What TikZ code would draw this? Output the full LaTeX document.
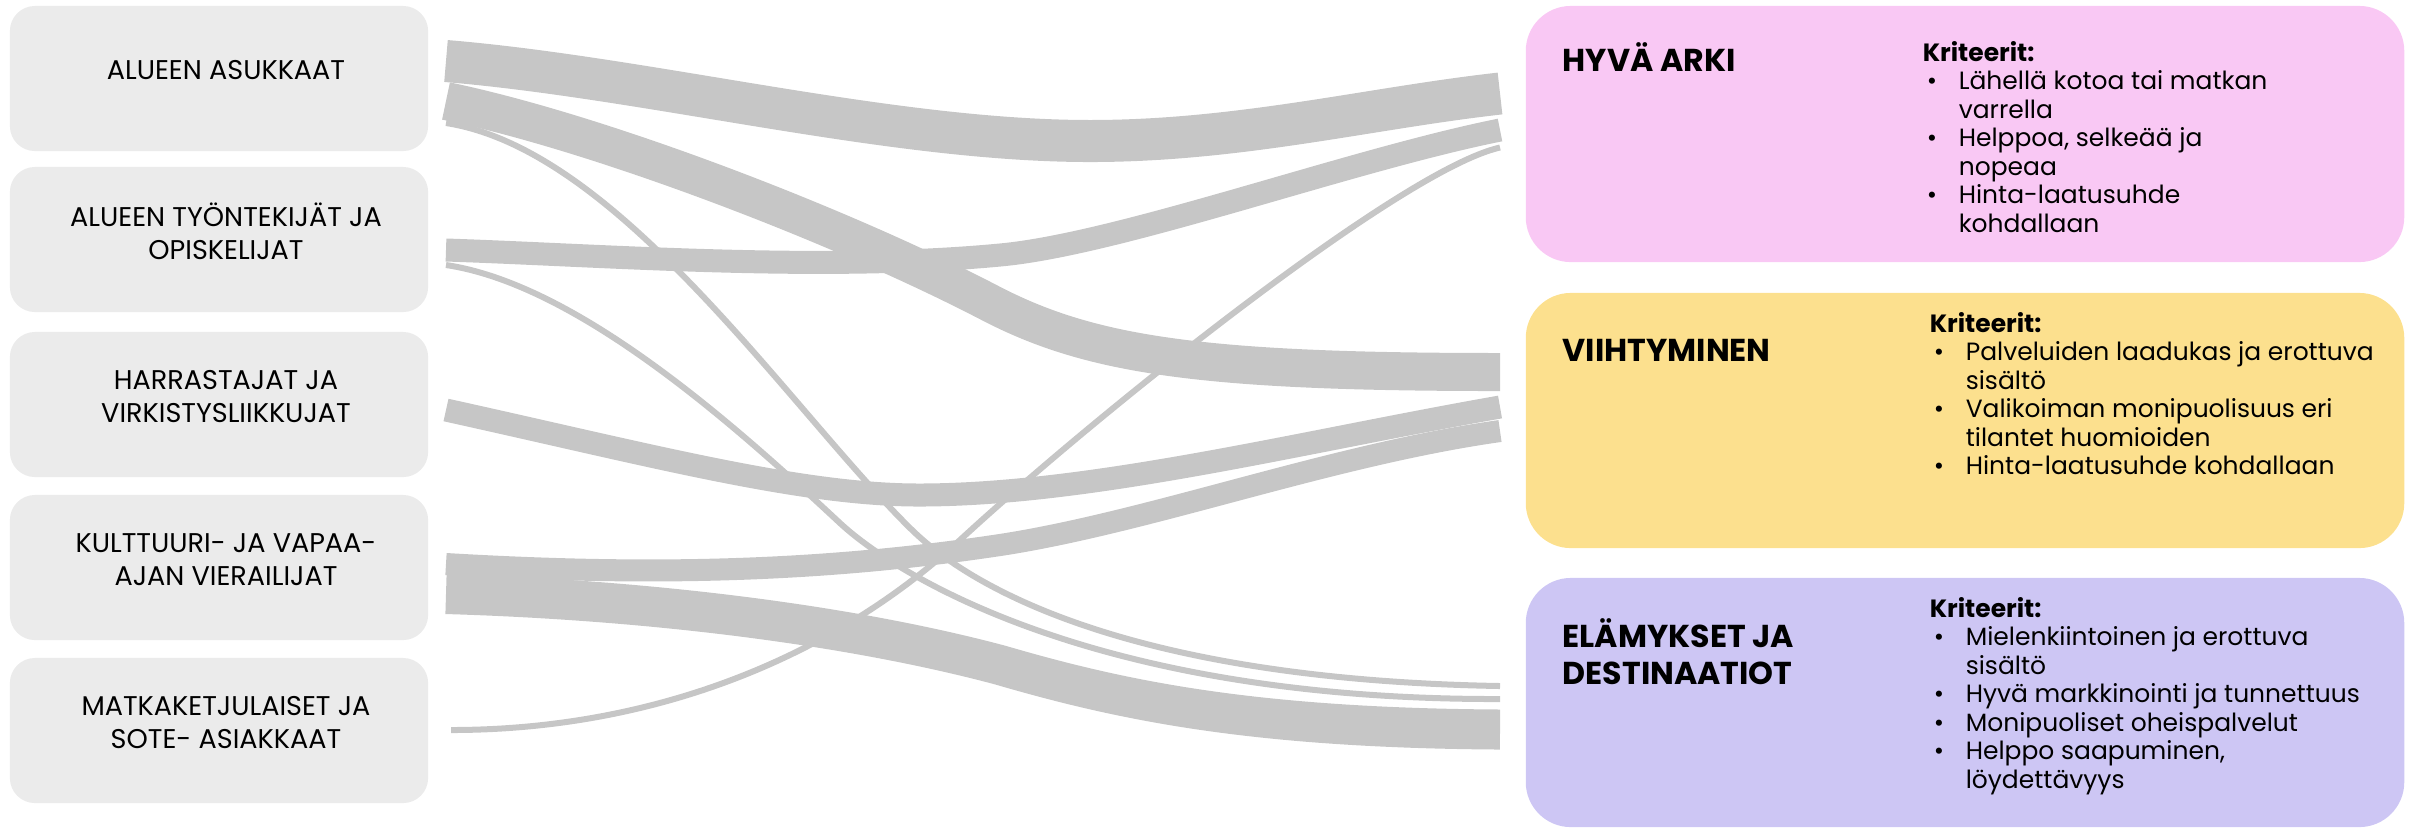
\documentclass[tikz,border=0pt]{standalone}
\usepackage{fontspec}
\setmainfont{Poppins}
\usepackage{tikz}

\definecolor{boxgray}{RGB}{235,235,235}
\definecolor{flowgray}{RGB}{198,198,198}
\definecolor{arkipink}{RGB}{249,200,244}
\definecolor{viihyellow}{RGB}{252,224,142}
\definecolor{elamlilac}{RGB}{205,198,244}

\newcommand{\srcfont}{\fontsize{7.7}{9.25}\selectfont}
\newcommand{\goalfont}{\bfseries\fontsize{9}{10.7}\selectfont}
\newcommand{\critfont}{\fontsize{7.1}{8.1}\selectfont}
\newcommand{\bul}{\hspace*{0.04cm}\makebox[0.32cm][l]{\textbullet}}
\newcommand{\cont}{\hspace*{0.36cm}}
\newcommand{\lines}[1]{\begin{tabular}[t]{@{}l@{}}#1\end{tabular}}

\begin{document}
\begin{tikzpicture}[x=0.01cm, y=-0.01cm]

\tikzset{srcbox/.style = {shape=rectangle, fill=boxgray, rounded corners=0.25cm, minimum width=4.18cm, minimum height=1.45cm}}
\tikzset{srclabel/.style = {align=center, font=\srcfont, inner sep=0pt}}
\tikzset{goalbox/.style = {shape=rectangle, rounded corners=0.45cm, minimum width=8.78cm}}
\tikzset{goaltitle/.style = {anchor=base west, font=\goalfont, inner sep=0pt}}
\tikzset{crit/.style = {anchor=base west, font=\critfont, inner sep=0pt}}
\tikzset{band/.style = {draw=flowgray, line cap=butt}}
\tikzset{strand/.style = {band, line width=0.06cm}}

\useasboundingbox (0,0) rectangle (2410,829);

% target groups
\node[srcbox] (asukkaat) at (219,78.5) {};
\node[srcbox] (tyontekijat) at (219,239.5) {};
\node[srcbox] (harrastajat) at (219,404.5) {};
\node[srcbox] (kulttuuri) at (219,567.5) {};
\node[srcbox] (matkaketju) at (219,730.5) {};
\node[srclabel] (asukkaat-t) at ([shift={(7,-8)}]asukkaat) {ALUEEN ASUKKAAT};
\node[srclabel] (tyontekijat-t) at ([shift={(7,-8)}]tyontekijat) {ALUEEN TYÖNTEKIJÄT JA\\OPISKELIJAT};
\node[srclabel] (harrastajat-t) at ([shift={(7,-8)}]harrastajat) {HARRASTAJAT JA\\VIRKISTYSLIIKKUJAT};
\node[srclabel] (kulttuuri-t) at ([shift={(7,-8)}]kulttuuri) {KULTTUURI- JA VAPAA-\\AJAN VIERAILIJAT};
\node[srclabel] (matkaketju-t) at ([shift={(7,-8)}]matkaketju) {MATKAKETJULAISET JA\\SOTE- ASIAKKAAT};

% goals
\node[goalbox, fill=arkipink, minimum height=2.56cm] (arki) at (1965,134) {};
\node[goalbox, fill=viihyellow, minimum height=2.55cm] (viih) at (1965,420.5) {};
\node[goalbox, fill=elamlilac, minimum height=2.49cm] (elam) at (1965,702.5) {};
\node[goaltitle] (arki-t) at ([shift={(37,66)}]arki.north west) {HYVÄ ARKI};
\node[goaltitle] (viih-t) at ([shift={(37,69)}]viih.north west) {VIIHTYMINEN};
\node[goaltitle] (elam-t) at ([shift={(37,70)}]elam.north west) {\lines{ELÄMYKSET JA\\DESTINAATIOT}};
\node[crit] (arki-k) at ([shift={(397,56)}]arki.north west) {\lines{\textbf{Kriteerit:}\\
  \bul Lähellä kotoa tai matkan\\ \cont varrella\\
  \bul Helppoa, selkeää ja\\ \cont nopeaa\\
  \bul Hinta-laatusuhde\\ \cont kohdallaan}};
\node[crit] (viih-k) at ([shift={(404,40)}]viih.north west) {\lines{\textbf{Kriteerit:}\\
  \bul Palveluiden laadukas ja erottuva\\ \cont sisältö\\
  \bul Valikoiman monipuolisuus eri\\ \cont tilantet huomioiden\\
  \bul Hinta-laatusuhde kohdallaan}};
\node[crit] (elam-k) at ([shift={(404,40)}]elam.north west) {\lines{\textbf{Kriteerit:}\\
  \bul Mielenkiintoinen ja erottuva\\ \cont sisältö\\
  \bul Hyvä markkinointi ja tunnettuus\\
  \bul Monipuoliset oheispalvelut\\
  \bul Helppo saapuminen,\\ \cont löydettävyys}};

% flow ends
\coordinate (asu-arki) at (446,61);
\coordinate (asu-viih) at (446,101);
\coordinate (asu-elam) at (446,123);
\coordinate (tyo-arki) at (446,250);
\coordinate (tyo-elam) at (446,265);
\coordinate (har-viih) at (446,410);
\coordinate (kul-viih) at (446,564);
\coordinate (kul-elam) at (446,594);
\coordinate (mat-arki) at (451,730);
\coordinate (arki-asu) at (1500,93.5);
\coordinate (arki-tyo) at (1500,130);
\coordinate (arki-mat) at (1500,147.5);
\coordinate (viih-asu) at (1500,372);
\coordinate (viih-har) at (1500,407);
\coordinate (viih-kul) at (1500,431);
\coordinate (elam-asu) at (1500,686);
\coordinate (elam-tyo) at (1500,699);
\coordinate (elam-kul) at (1500,729.5);

% flows
\draw[band, line width=0.42cm] (asu-arki) .. controls (650,78) and (890,141) .. (1090,141) .. controls (1240,141) and (1370,108) .. (arki-asu);
\draw[band, line width=0.38cm] (asu-viih) .. controls (600,133) and (840,225) .. (990,303) .. controls (1090,355) and (1200,372) .. (viih-asu);
\draw[strand] (asu-elam) .. controls (620,150) and (790,410) .. (911,529) .. controls (980,597) and (1150,680) .. (elam-asu);
\draw[band, line width=0.23cm] (tyo-arki) .. controls (600,255) and (820,272) .. (1000,255) .. controls (1120,244) and (1350,160) .. (arki-tyo);
\draw[strand] (tyo-elam) .. controls (580,285) and (740,430) .. (841,524) .. controls (900,578) and (1100,700) .. (elam-tyo);
\draw[band, line width=0.23cm] (har-viih) .. controls (650,455) and (800,495) .. (919,495) .. controls (1090,495) and (1300,442) .. (viih-har);
\draw[band, line width=0.22cm] (kul-viih) .. controls (650,576) and (820,572) .. (1000,545) .. controls (1150,522) and (1330,455) .. (viih-kul);
\draw[band, line width=0.40cm] (kul-elam) .. controls (650,600) and (850,625) .. (1000,665) .. controls (1120,700) and (1250,728) .. (elam-kul);
\draw[strand] (mat-arki) .. controls (650,730) and (830,660) .. (960,540) .. controls (1090,420) and (1400,170) .. (arki-mat);
\end{tikzpicture}
\end{document}
